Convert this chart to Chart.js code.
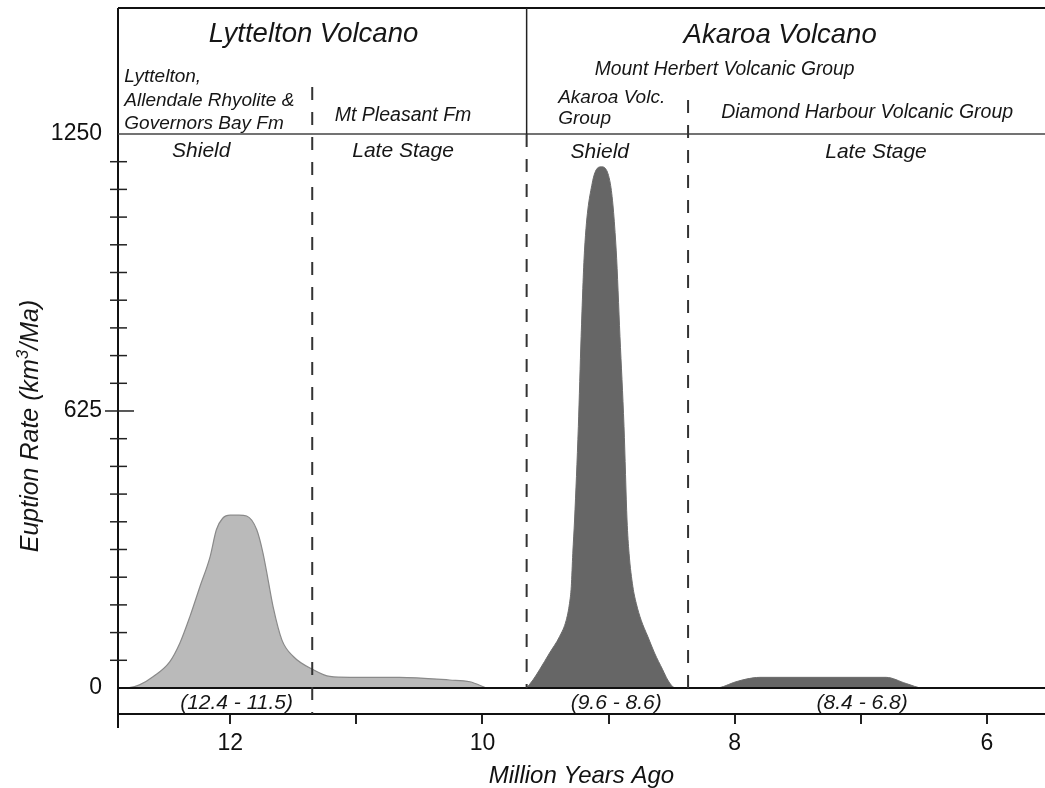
<!DOCTYPE html>
<html>
<head>
<meta charset="utf-8">
<script src="https://cdn.jsdelivr.net/npm/chart.js@4.4.1/dist/chart.umd.min.js"></script>
<style>
  html, body { margin: 0; padding: 0; background: #fff; }
</style>
</head>
<body>
<canvas id="chart" width="1045" height="788"></canvas>
<script>
const FONT = "'Liberation Sans', Arial, Helvetica, sans-serif";

// Lyttelton Volcano (age in Ma, eruption rate in km3/Ma)
const lyttelAge  = [12.89, 12.80, 12.72, 12.61, 12.48, 12.40, 12.32, 12.24, 12.16, 12.11, 12.06, 12.00, 11.93, 11.87, 11.79, 11.74, 11.70, 11.66, 11.59, 11.50, 11.34, 11.21, 11.05, 10.66, 10.26, 10.10, 9.97];
const lyttelRate = [0, 1, 7, 26, 59, 101, 161, 229, 296, 357, 383, 390, 390, 388, 357, 304, 244, 183, 108, 71, 41, 26, 24, 24, 18, 14, 0];

// Akaroa Volcano
const akaroaAge  = [9.65, 9.60, 9.548, 9.468, 9.389, 9.336, 9.310, 9.296, 9.284, 9.270, 9.240, 9.218, 9.191, 9.130, 9.059,
                    8.987, 8.940, 8.910, 8.878, 8.854, 8.838, 8.808, 8.781, 8.742, 8.689, 8.636, 8.571, 8.531, 8.491, 8.46,
                    8.15, 7.99, 7.91, 7.80, 6.80, 6.64, 6.51, 5.54];
const akaroaRate = [0, 18, 41, 79, 116, 153, 191, 229, 304, 379, 590, 793, 988, 1139, 1176,
                    1139, 988, 793, 590, 379, 304, 229, 191, 153, 116, 79, 41, 18, 3, 0,
                    0, 14, 20, 24, 24, 10, 0, 0];

const xTicks  = [12, 11, 10, 9, 8, 7, 6];
const xLabels = ["12", "", "10", "", "8", "", "6"];
const yTicks  = [0, 62.5, 125, 187.5, 250, 312.5, 375, 437.5, 500, 562.5, 625, 687.5, 750, 812.5, 875, 937.5, 1000, 1062.5, 1125, 1187.5, 1250];
const yLabels = { 0: "0", 625: "625", 1250: "1250" };

// stage boundaries (Ma) and eruption age ranges
const boundaries  = [11.35, 9.65, 8.37];
const rangeText   = ["(12.4 - 11.5)", "(9.6 - 8.6)", "(8.4 - 6.8)"];
const rangeCenter = [11.95, 8.94, 6.99];

// header labels: text, age position, baseline px, size, align
const headerLabels = [
  ["Lyttelton Volcano", 11.34, 42, 27.5, "center"],
  ["Akaroa Volcano", 7.64, 43, 27.5, "center"],
  ["Mount Herbert Volcanic Group", 8.08, 75, 19.3, "center"],
  ["Lyttelton,", 12.84, 82, 19, "left"],
  ["Allendale Rhyolite &", 12.84, 106, 19, "left"],
  ["Governors Bay Fm", 12.84, 129, 19, "left"],
  ["Mt Pleasant Fm", 10.63, 121, 19.5, "center"],
  ["Akaroa Volc.", 9.40, 103, 19, "left"],
  ["Group", 9.40, 124, 19, "left"],
  ["Diamond Harbour Volcanic Group", 6.95, 118, 19.5, "center"],
  ["Shield", 12.23, 157, 21, "center"],
  ["Late Stage", 10.63, 157, 21, "center"],
  ["Shield", 9.07, 158, 21, "center"],
  ["Late Stage", 6.88, 158, 21, "center"]
];

function line(ctx, x1, y1, x2, y2) {
  ctx.beginPath(); ctx.moveTo(x1, y1); ctx.lineTo(x2, y2); ctx.stroke();
}

const framePlugin = {
  id: "frame",
  afterDatasetsDraw(chart) {
    const { ctx, chartArea: ca, scales: { x, y } } = chart;
    const top = 8;
    const y0 = y.getPixelForValue(0);
    const yHead = y.getPixelForValue(1250);
    ctx.save();
    ctx.lineCap = "butt";

    // outer frame
    ctx.strokeStyle = "#111"; ctx.lineWidth = 2;
    line(ctx, ca.left, top, ca.right, top);
    line(ctx, ca.left, top, ca.left, ca.bottom + 14);
    line(ctx, ca.left, y0, ca.right, y0);
    ctx.strokeStyle = "#444"; ctx.lineWidth = 1.5;
    line(ctx, ca.left, yHead, ca.right, yHead);

    // volcano divider (solid in header)
    const xd = x.getPixelForValue(boundaries[1]);
    ctx.strokeStyle = "#222"; ctx.lineWidth = 1.5;
    line(ctx, xd, top, xd, yHead);

    // dashed stage boundaries
    ctx.setLineDash([13, 12]); ctx.lineWidth = 2; ctx.strokeStyle = "#333";
    let xb = x.getPixelForValue(boundaries[0]);
    line(ctx, xb, 87, xb, ca.bottom);
    line(ctx, xd, yHead, xd, y0);
    xb = x.getPixelForValue(boundaries[2]);
    line(ctx, xb, 100, xb, y0);
    ctx.setLineDash([]);

    // y minor ticks crossing the axis
    ctx.strokeStyle = "#222"; ctx.lineWidth = 1.5;
    yTicks.forEach(v => {
      if (v === 0 || v === 1250) return;
      const py = y.getPixelForValue(v);
      if (v === 625) line(ctx, ca.left - 13, py, ca.left + 16, py);
      else line(ctx, ca.left - 8, py, ca.left + 9, py);
    });

    // text
    ctx.fillStyle = "#161616";
    ctx.textBaseline = "alphabetic";
    headerLabels.forEach(([t, ma, py, size, align]) => {
      ctx.font = "italic " + size + "px " + FONT;
      ctx.textAlign = align;
      ctx.fillText(t, x.getPixelForValue(ma), py);
    });
    ctx.font = "italic 21px " + FONT;
    ctx.textAlign = "center";
    rangeText.forEach((t, i) => ctx.fillText(t, x.getPixelForValue(rangeCenter[i]), ca.bottom - 5));

    // y axis title with superscript
    ctx.save();
    ctx.translate(38, (ca.top + ca.bottom) / 2 + 2);
    ctx.rotate(-Math.PI / 2);
    const parts = [["Euption Rate (km", 25, 0], ["3", 17, -10], ["/Ma)", 25, 0]];
    let total = 0;
    parts.forEach(([t, s]) => { ctx.font = "italic " + s + "px " + FONT; total += ctx.measureText(t).width; });
    let cx = -total / 2;
    ctx.textAlign = "left";
    parts.forEach(([t, s, dy]) => {
      ctx.font = "italic " + s + "px " + FONT;
      ctx.fillText(t, cx, dy);
      cx += ctx.measureText(t).width;
    });
    ctx.restore();
    ctx.restore();
  }
};

const toPoints = (ages, rates) => ages.map((a, i) => ({ x: a, y: rates[i] }));

new Chart(document.getElementById("chart"), {
  type: "line",
  data: {
    datasets: [
      {
        label: "Lyttelton Volcano",
        data: toPoints(lyttelAge, lyttelRate),
        backgroundColor: "#bababa",
        borderColor: "#8a8a8a",
        borderWidth: 1.2,
        fill: "origin",
        cubicInterpolationMode: "monotone"
      },
      {
        label: "Akaroa Volcano",
        data: toPoints(akaroaAge, akaroaRate),
        backgroundColor: "#666666",
        borderColor: "#6c6c6c",
        borderWidth: 1,
        fill: "origin",
        cubicInterpolationMode: "monotone"
      }
    ]
  },
  options: {
    responsive: false,
    animation: false,
    layout: { padding: { top: 134, right: 0, left: 0, bottom: 0 } },
    elements: { point: { radius: 0 } },
    plugins: { legend: { display: false }, tooltip: { enabled: false } },
    scales: {
      x: {
        type: "linear", reverse: true, min: 5.54, max: 12.89,
        afterBuildTicks: s => { s.ticks = xTicks.map(v => ({ value: v })); },
        afterFit: s => { s.height = 74; },
        ticks: {
          callback: v => xLabels[xTicks.indexOf(v)] ?? "",
          font: { family: FONT, size: 23 }, color: "#111",
          padding: 6, maxRotation: 0, autoSkip: false
        },
        grid: { drawOnChartArea: false, tickLength: 10, lineWidth: 2, color: "#222" },
        border: { display: true, color: "#111", width: 2 },
        title: {
          display: true, text: "Million Years Ago", color: "#111",
          font: { family: FONT, size: 24, style: "italic", lineHeight: 1 },
          padding: { top: 0, bottom: 0 }
        }
      },
      y: {
        type: "linear", min: -58.7, max: 1250,
        afterBuildTicks: s => { s.ticks = yTicks.map(v => ({ value: v })); },
        afterFit: s => { s.width = 118; },
        ticks: {
          callback: v => yLabels[v] ?? "",
          font: { family: FONT, size: 23 }, color: "#111",
          padding: 8, autoSkip: false
        },
        grid: { display: false },
        border: { display: false },
        title: { display: false }
      }
    }
  },
  plugins: [framePlugin]
});
</script>
</body>
</html>
